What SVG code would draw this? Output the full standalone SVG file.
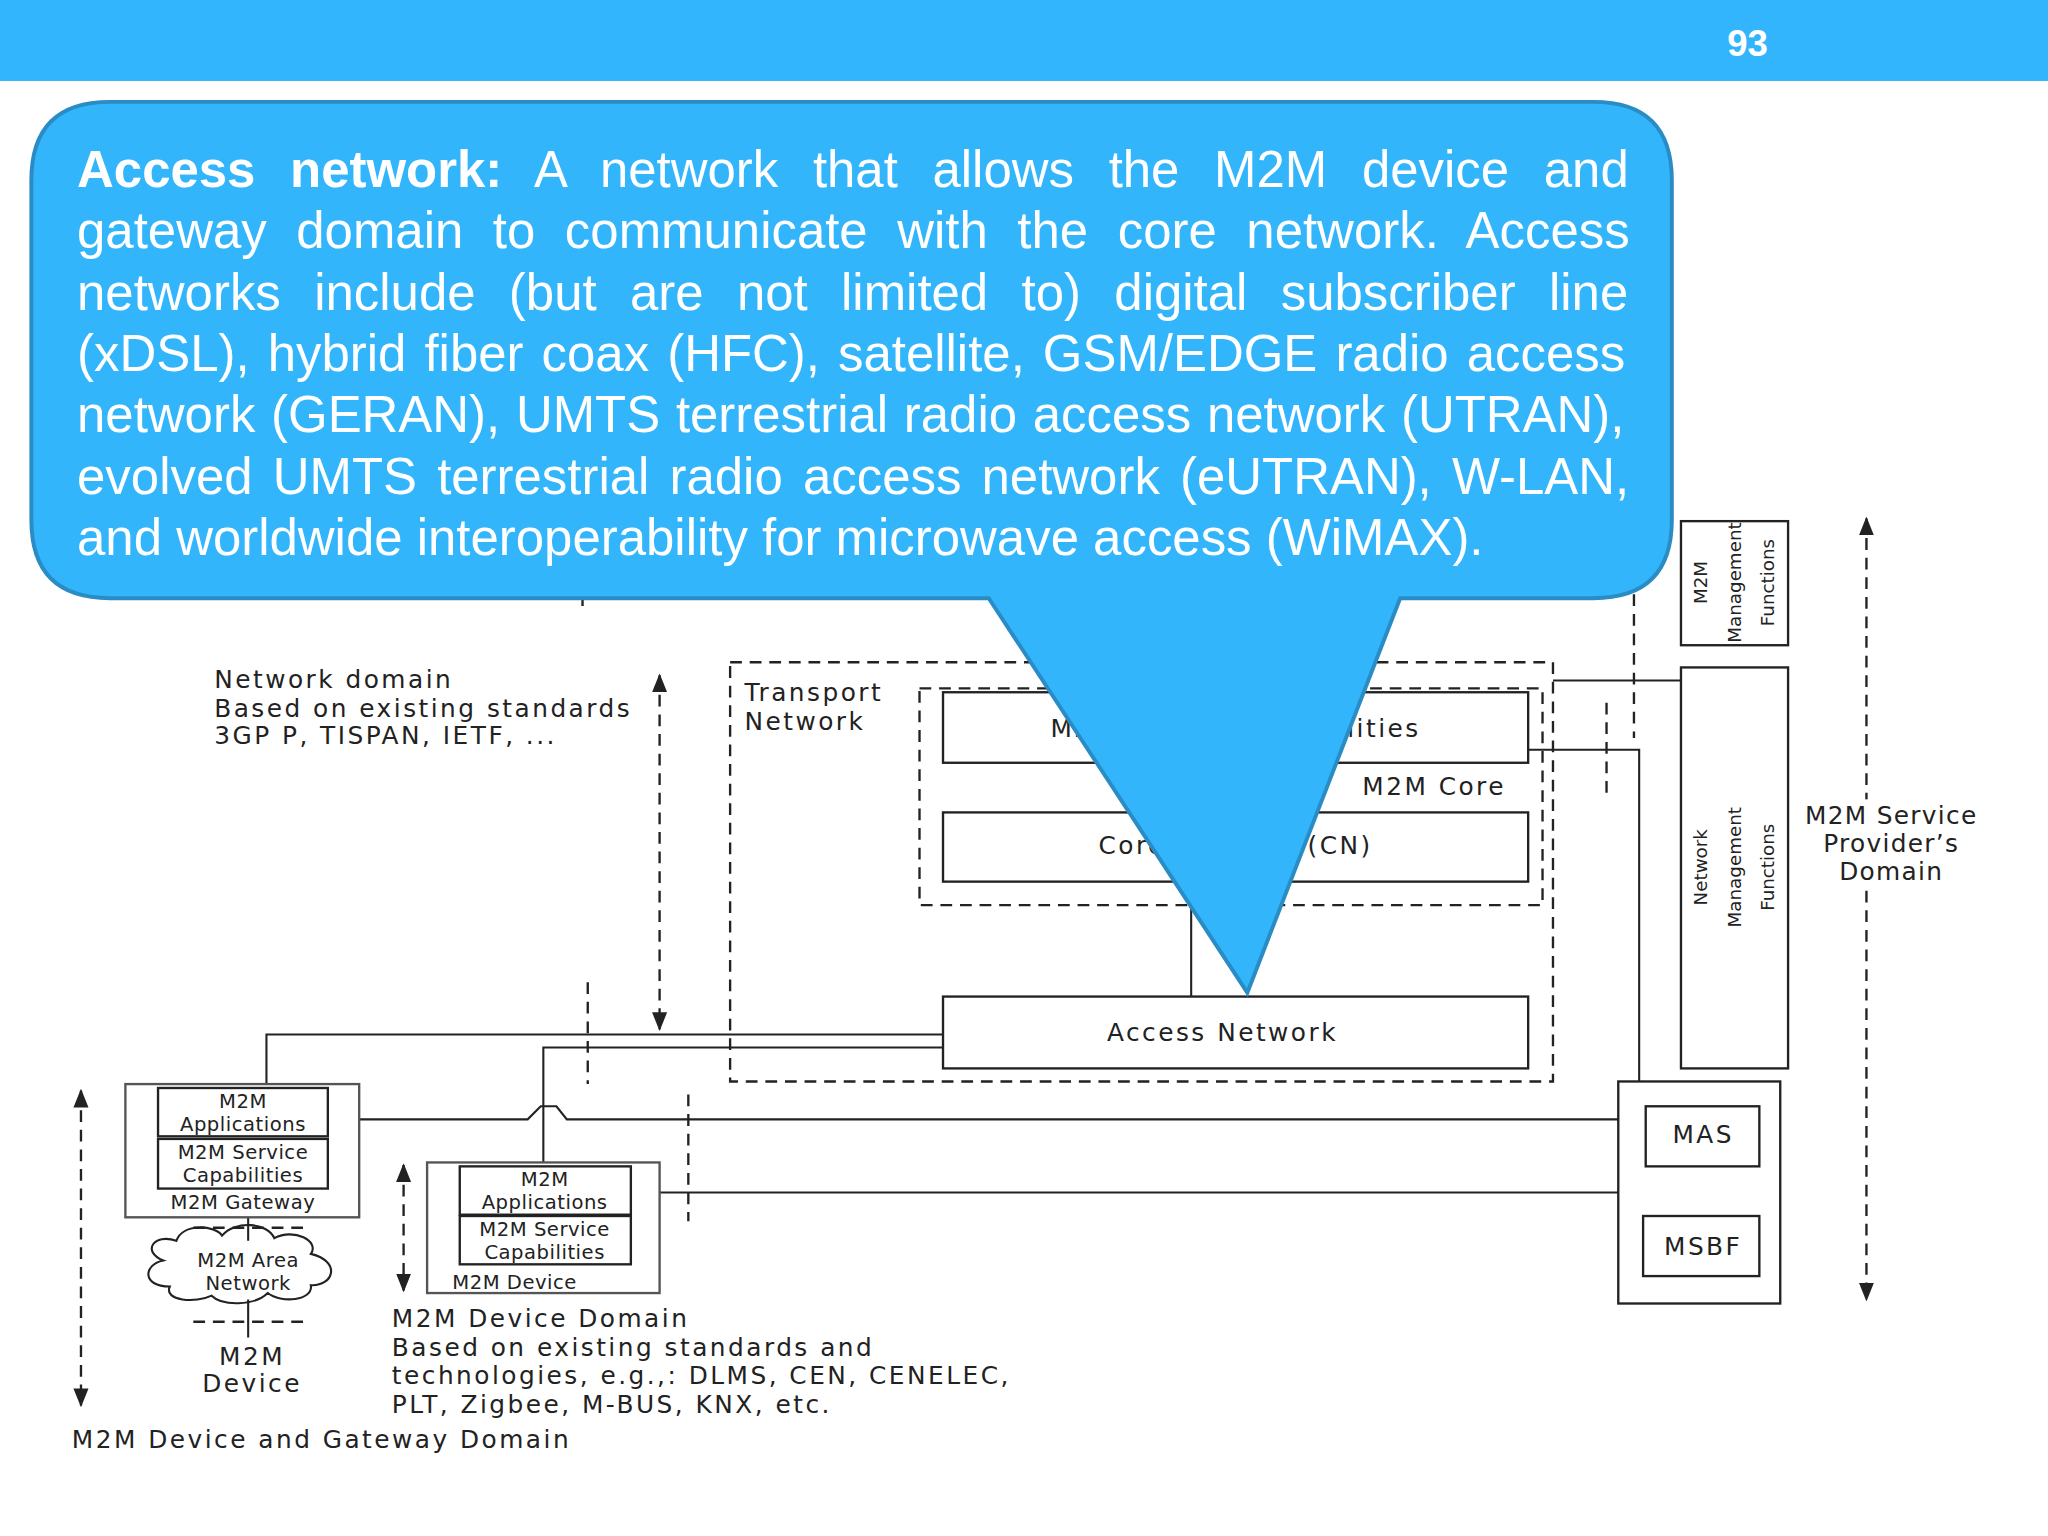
<svg xmlns="http://www.w3.org/2000/svg" width="2048" height="1536" viewBox="0 0 2048 1536">
<style>
.t{font-family:"DejaVu Sans","Liberation Sans",sans-serif;fill:#222;font-size:19px;letter-spacing:1.9px}
.s{font-size:15px;letter-spacing:0.4px}
.c{text-anchor:middle}
.b{fill:#fff;stroke:#222;stroke-width:1.8}
.g{fill:#fff;stroke:#555;stroke-width:1.8}
.d{fill:none;stroke:#222;stroke-width:1.8;stroke-dasharray:9,6}
.l{fill:none;stroke:#222;stroke-width:1.6}
.ct{font-family:"Liberation Sans",Arial,sans-serif;fill:#fff;font-size:39px}
</style>
<defs>
<marker id="ah" viewBox="0 0 10 10" refX="9" refY="5" markerWidth="8" markerHeight="8" orient="auto-start-reverse"><path d="M0,1 L10,5 L0,9 z" fill="#222"/></marker>
</defs>
<rect width="2048" height="1536" fill="#fff"/>
<g transform="scale(1.30612)">
<rect x="0" y="0" width="1568" height="62" fill="#33b5fd"/>
<text x="1338" y="43" class="ct" style="font-size:28px;font-weight:bold" text-anchor="middle">93</text>

<g id="connectors">
<path class="d" d="M505,517 V788" marker-start="url(#ah)" marker-end="url(#ah)"/>
<path class="d" d="M446,455 V470 M450,752 V830 M527,838 V935 M1230,538 V612 M1251,455 V565"/>
<path class="d" d="M1429,397 V995" marker-start="url(#ah)" marker-end="url(#ah)"/>
<path class="d" d="M309,892 V988" marker-start="url(#ah)" marker-end="url(#ah)"/>
<path class="d" d="M62,835 V1076" marker-start="url(#ah)" marker-end="url(#ah)"/>
<path class="l" d="M912,675 V763 M204,830 V792 H722 M416,890 V802 H722 M1170,574 H1255 V828 M1189,521 H1287 M1303,893 V931"/>
<path class="l" d="M251,857 H404 L414,847 H426 L434,857 H1239 M483,913 H1239"/>
<path class="d" d="M148,940 H236 M148,1012 H236"/>
<path class="l" d="M190,932 V950 M190,995 V1024"/>
</g>

<g id="texts-left">
<text class="t" x="164" y="527">Network domain</text>
<text class="t" x="164" y="549">Based on existing standards</text>
<text class="t" x="164" y="570">3GP P, TISPAN, IETF, ...</text>
</g>

<g id="transport">
<rect class="d" x="559" y="507" width="630" height="321"/>
<text class="t" x="570" y="537">Transport</text>
<text class="t" x="570" y="559">Network</text>
</g>
<g id="m2mcore">
<rect class="d" x="704" y="527" width="477" height="166"/>
<text class="t c" x="1098" y="609">M2M Core</text>
</g>
<g id="svccap"><rect class="b" x="722" y="530" width="448" height="54"/><text class="t c" x="946" y="564">M2M Service Capabilities</text></g>
<g id="corenet"><rect class="b" x="722" y="622" width="448" height="53"/><text class="t c" x="946" y="654">Core Network (CN)</text></g>
<g id="access"><rect class="b" x="722" y="763" width="448" height="55"/><text class="t c" x="936" y="797">Access Network</text></g>

<g id="m2mmgmt"><rect class="b" x="1287" y="399" width="82" height="95"/>
<text class="t c s" style="font-size:14px;letter-spacing:0" transform="translate(1307,446) rotate(-90)">M2M</text>
<text class="t c s" style="font-size:14px;letter-spacing:0" transform="translate(1333,446) rotate(-90)">Management</text>
<text class="t c s" style="font-size:14px;letter-spacing:0" transform="translate(1358,446) rotate(-90)">Functions</text></g>
<g id="netmgmt"><rect class="b" x="1287" y="511" width="82" height="307"/>
<text class="t c s" style="font-size:14px;letter-spacing:0" transform="translate(1307,664) rotate(-90)">Network</text>
<text class="t c s" style="font-size:14px;letter-spacing:0" transform="translate(1333,664) rotate(-90)">Management</text>
<text class="t c s" style="font-size:14px;letter-spacing:0" transform="translate(1358,664) rotate(-90)">Functions</text></g>
<g id="spdomain">
<rect x="1376" y="612" width="146" height="68" fill="#fff"/>
<text class="t c" style="letter-spacing:1px" x="1448" y="631">M2M Service</text>
<text class="t c" style="letter-spacing:1px" x="1448" y="652">Provider’s</text>
<text class="t c" style="letter-spacing:1px" x="1448" y="674">Domain</text></g>

<g id="masbox"><rect class="b" x="1239" y="828" width="124" height="170"/>
<rect class="b" x="1260" y="847" width="87" height="46"/><text class="t c" x="1304" y="875">MAS</text>
<rect class="b" x="1258" y="931" width="89" height="46"/><text class="t c" x="1304" y="961">MSBF</text></g>

<g id="gateway"><rect class="g" x="96" y="830" width="179" height="102"/>
<rect class="b" x="121" y="833" width="130" height="37"/>
<text class="t c s" x="186" y="848">M2M</text><text class="t c s" x="186" y="866">Applications</text>
<rect class="b" x="121" y="872" width="130" height="38"/>
<text class="t c s" x="186" y="887">M2M Service</text><text class="t c s" x="186" y="905">Capabilities</text>
<text class="t c s" x="186" y="926">M2M Gateway</text></g>

<g id="areanet">
<path class="l" d="M125,965 C108,958 118,944 135,950 C140,936 165,938 170,946 C180,934 205,936 210,948 C225,940 245,950 238,960 C262,966 255,985 238,984 C240,996 215,998 205,990 C195,1000 170,1000 162,992 C150,998 125,996 130,985 C108,985 110,968 125,965 Z" fill="#fff"/>
<text class="t c s" x="190" y="970">M2M Area</text>
<text class="t c s" x="190" y="988">Network</text></g>
<g id="devlabel"><text class="t c" x="193" y="1045">M2M</text><text class="t c" x="193" y="1066">Device</text></g>

<g id="device"><rect class="g" x="327" y="890" width="178" height="100"/>
<rect class="b" x="352" y="893" width="131" height="37"/>
<text class="t c s" x="417" y="908">M2M</text><text class="t c s" x="417" y="926">Applications</text>
<rect class="b" x="352" y="931" width="131" height="37"/>
<text class="t c s" x="417" y="946">M2M Service</text><text class="t c s" x="417" y="964">Capabilities</text>
<text class="t c s" x="394" y="987">M2M Device</text></g>

<g id="devdomain">
<text class="t" x="300" y="1016">M2M Device Domain</text>
<text class="t" x="300" y="1038">Based on existing standards and</text>
<text class="t" x="300" y="1060">technologies, e.g.,: DLMS, CEN, CENELEC,</text>
<text class="t" x="300" y="1082">PLT, Zigbee, M-BUS, KNX, etc.</text>
<text class="t" x="55" y="1109">M2M Device and Gateway Domain</text></g>

<g id="callout">
<path d="M84,78 H1220 Q1280,78 1280,138 V398 Q1280,458 1220,458 H1072 L955,760 L757,458 H84 Q24,458 24,398 V138 Q24,78 84,78 Z" fill="#33b5fb" stroke="#2a8cc4" stroke-width="3"/>
<text class="ct" x="59" y="143" word-spacing="15.7"><tspan font-weight="bold">Access network:</tspan> A network that allows the M2M device and</text>
<text class="ct" x="59" y="190" word-spacing="11.8">gateway domain to communicate with the core network. Access</text>
<text class="ct" x="59" y="237" word-spacing="14.7">networks include (but are not limited to) digital subscriber line</text>
<text class="ct" x="59" y="284" word-spacing="3">(xDSL), hybrid fiber coax (HFC), satellite, GSM/EDGE radio access</text>
<text class="ct" x="59" y="331" word-spacing="1.2">network (GERAN), UMTS terrestrial radio access network (UTRAN),</text>
<text class="ct" x="59" y="378" word-spacing="4.6">evolved UMTS terrestrial radio access network (eUTRAN), W-LAN,</text>
<text class="ct" x="59" y="425">and worldwide interoperability for microwave access (WiMAX).</text>
</g>
</g>
</svg>
